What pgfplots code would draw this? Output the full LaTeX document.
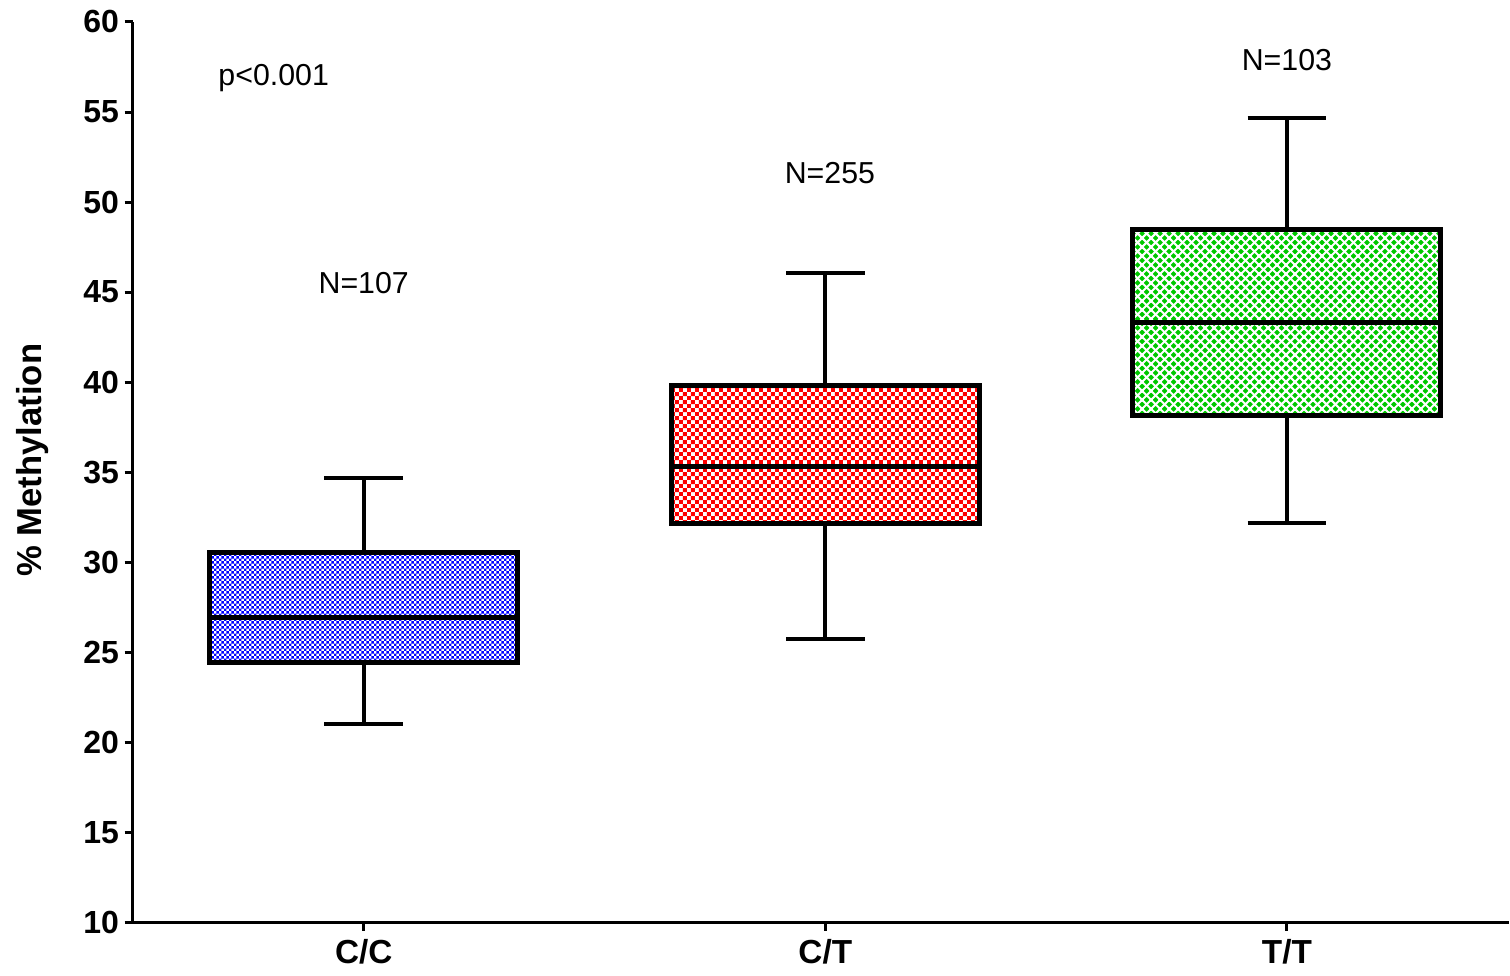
\documentclass[border=0pt]{standalone}
\usepackage{fontspec}
\setmainfont{Liberation Sans}
\usepackage{pgfplots}
\pgfplotsset{compat=1.18}
\usepgfplotslibrary{statistics}
\usetikzlibrary{patterns}

\definecolor{ccblue}{RGB}{0,0,255}
\definecolor{ctred}{RGB}{255,0,0}
\definecolor{ttgreen}{RGB}{0,200,0}

% fine checkerboard
\pgfdeclarepatternformonly{finechecker}{\pgfpointorigin}{\pgfqpoint{1.5pt}{1.5pt}}{\pgfqpoint{1.5pt}{1.5pt}}{%
  \pgfpathrectangle{\pgfpointorigin}{\pgfqpoint{0.75pt}{0.75pt}}%
  \pgfpathrectangle{\pgfqpoint{0.75pt}{0.75pt}}{\pgfqpoint{0.75pt}{0.75pt}}%
  \pgfusepath{fill}}
% coarse checkerboard
\pgfdeclarepatternformonly{coarsechecker}{\pgfpointorigin}{\pgfqpoint{2.4pt}{2.4pt}}{\pgfqpoint{2.4pt}{2.4pt}}{%
  \pgfpathrectangle{\pgfpointorigin}{\pgfqpoint{1.2pt}{1.2pt}}%
  \pgfpathrectangle{\pgfqpoint{1.2pt}{1.2pt}}{\pgfqpoint{1.2pt}{1.2pt}}%
  \pgfusepath{fill}}
% diagonal cross-hatch
\pgfdeclarepatternformonly{diagcross}{\pgfqpoint{-0.5pt}{-0.5pt}}{\pgfqpoint{3.2pt}{3.2pt}}{\pgfqpoint{2.7pt}{2.7pt}}{%
  \pgfsetlinewidth{0.6pt}%
  \pgfpathmoveto{\pgfqpoint{-0.5pt}{-0.5pt}}\pgfpathlineto{\pgfqpoint{3.2pt}{3.2pt}}%
  \pgfpathmoveto{\pgfqpoint{-0.5pt}{3.2pt}}\pgfpathlineto{\pgfqpoint{3.2pt}{-0.5pt}}%
  \pgfusepath{stroke}}

\begin{document}
\begin{tikzpicture}
\begin{axis}[
  scale only axis,
  width=413pt, height=270.3pt,
  xmin=0.5, xmax=3.48,
  ymin=10, ymax=60,
  ytick={10,15,...,60},
  xtick={1,2,3},
  xticklabels={C/C,C/T,T/T},
  axis lines*=left,
  axis line style={line width=0.9pt},
  tick style={line width=0.9pt, black},
  tick align=outside,
  major tick length=2.5pt,
  /pgf/number format/assume math mode=true,
  yticklabel style={font=\fontsize{9.6}{11}\selectfont\bfseries, inner sep=1.5pt},
  xticklabel style={font=\fontsize{10}{12}\selectfont\bfseries, anchor=center, yshift=-6.4pt},
  ylabel={\% Methylation},
  ylabel style={font=\fontsize{10.4}{12}\selectfont\bfseries,
    at={(rel axis cs:0,0.5)}, anchor=center, yshift=30pt, xshift=3.6pt},
  boxplot/draw direction=y,
  clip=false,
]
\addplot[boxplot prepared={draw position=1,
    lower whisker=20.99, lower quartile=24.43, median=26.93,
    upper quartile=30.53, upper whisker=34.70,
    box extend=0.667, whisker extend=0.17},
  draw=black, line width=1.2pt,
  boxplot/every box/.style={preaction={fill=white}, pattern=finechecker, pattern color=ccblue, line width=1.5pt},
  boxplot/every median/.style={line width=1.5pt}]
  coordinates {};
\addplot[boxplot prepared={draw position=2,
    lower whisker=25.76, lower quartile=32.14, median=35.31,
    upper quartile=39.80, upper whisker=46.07,
    box extend=0.667, whisker extend=0.17},
  draw=black, line width=1.2pt,
  boxplot/every box/.style={preaction={fill=white}, pattern=coarsechecker, pattern color=ctred, line width=1.5pt},
  boxplot/every median/.style={line width=1.5pt}]
  coordinates {};
\addplot[boxplot prepared={draw position=3,
    lower whisker=32.20, lower quartile=38.14, median=43.30,
    upper quartile=48.46, upper whisker=54.67,
    box extend=0.667, whisker extend=0.17},
  draw=black, line width=1.2pt,
  boxplot/every box/.style={preaction={fill=ttgreen}, pattern=diagcross, pattern color=white, line width=1.5pt},
  boxplot/every median/.style={line width=1.5pt}]
  coordinates {};

\node[font=\fontsize{9.1}{11}\selectfont] at (axis cs:0.805,56.9) {p<0.001};
\node[font=\fontsize{9.1}{11}\selectfont] at (axis cs:1.0,45.52) {N=107};
\node[font=\fontsize{9.1}{11}\selectfont] at (axis cs:2.01,51.62) {N=255};
\node[font=\fontsize{9.1}{11}\selectfont] at (axis cs:3.0,57.89) {N=103};

% page margins around the axis
\path (rel axis cs:0,0) ++(-39.9pt,-14.4pt);
\path (rel axis cs:1,1) ++(0pt,6.6pt);
\end{axis}
\end{tikzpicture}
\end{document}
